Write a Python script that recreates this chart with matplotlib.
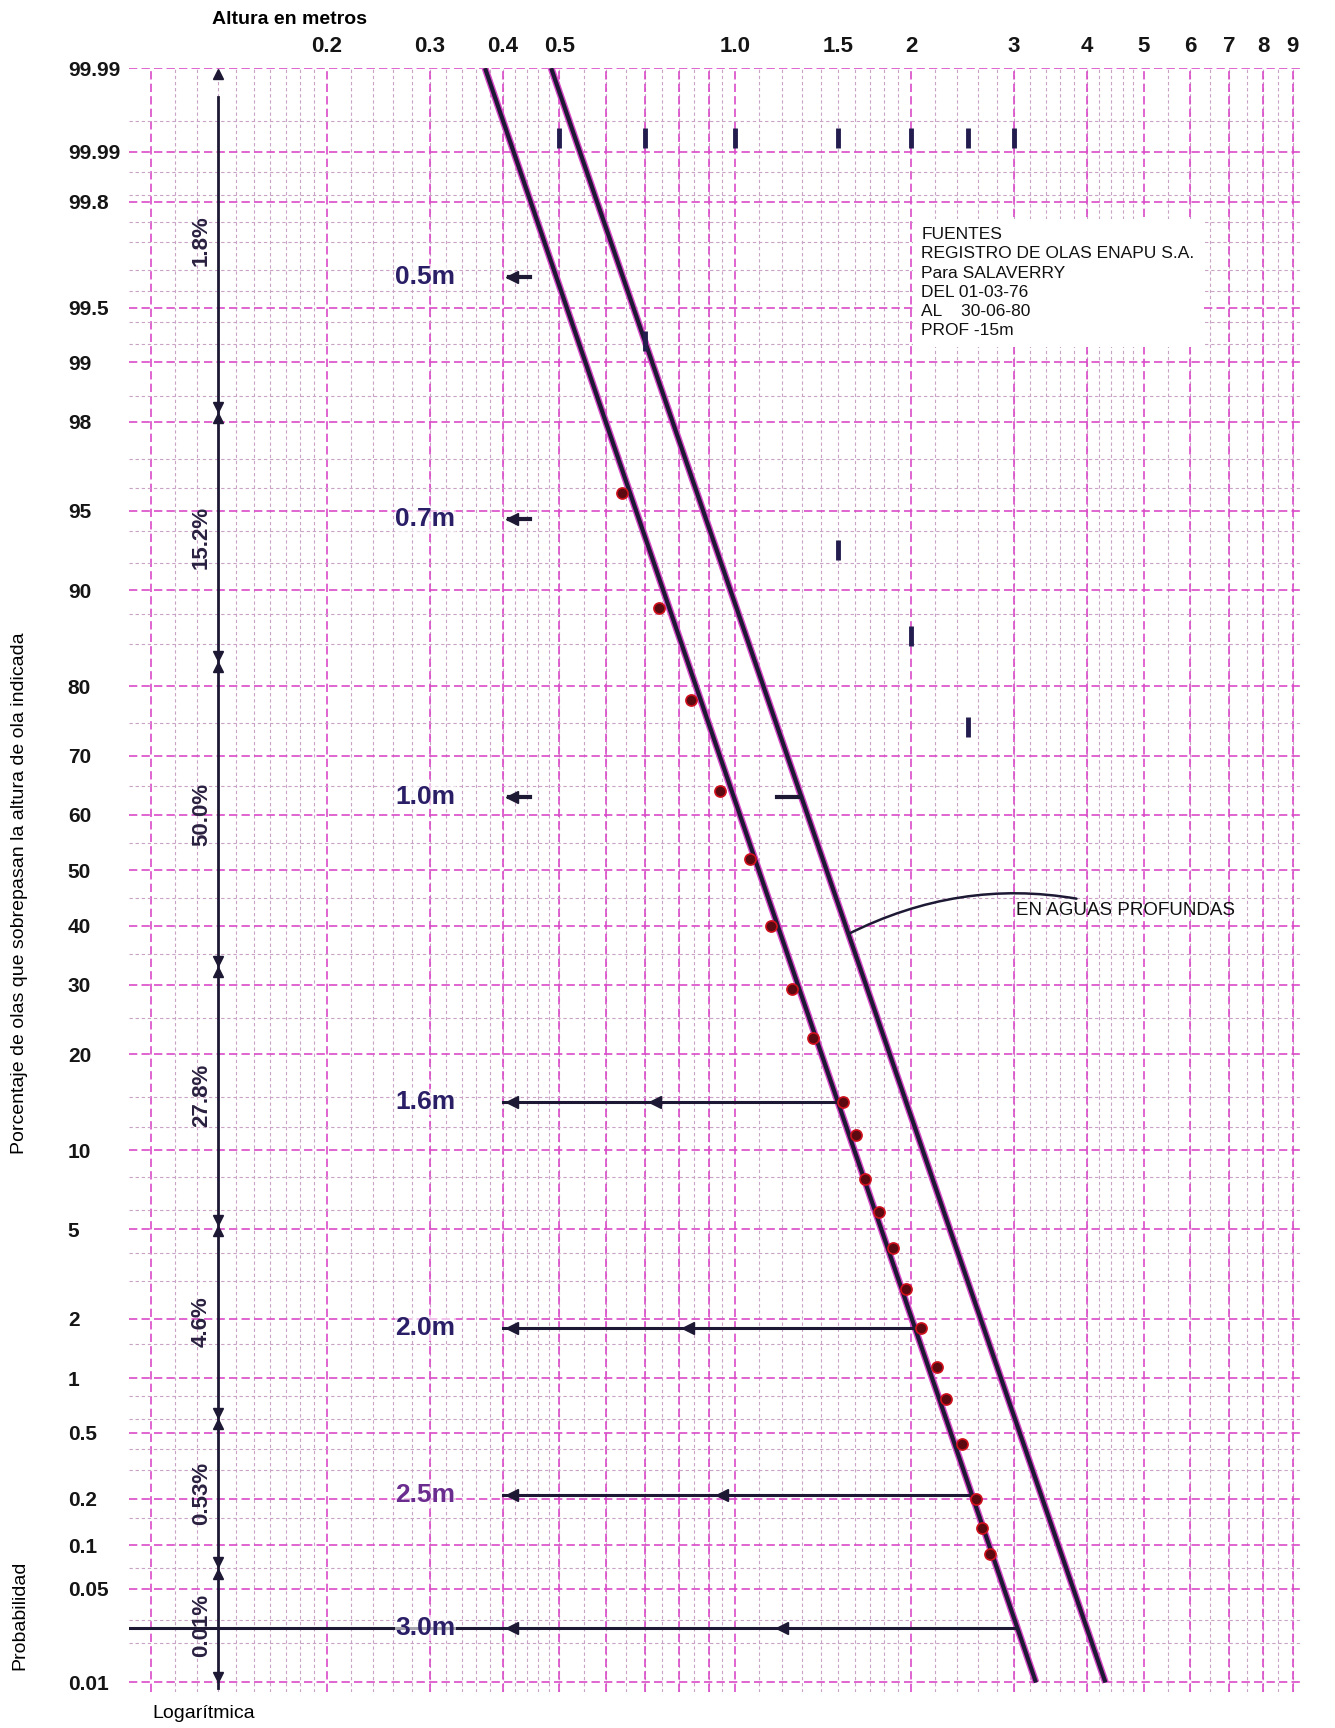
import numpy as np
import matplotlib
matplotlib.use("Agg")
import matplotlib.pyplot as plt
from matplotlib import transforms
from statistics import NormalDist

nd = NormalDist()


def pct_to_z(p):
    p = np.clip(np.asarray(p, dtype=float), 1e-7, 100 - 1e-7)
    return np.vectorize(lambda v: nd.inv_cdf(v / 100.0), otypes=[float])(p)


def z_to_pct(z):
    z = np.asarray(z, dtype=float)
    return np.vectorize(lambda v: nd.cdf(v) * 100.0, otypes=[float])(z)


# registros: altura de ola (m) y % de olas que la sobrepasan
obs_height = [0.64, 0.74, 0.84, 0.94, 1.06, 1.15, 1.25, 1.36, 1.53, 1.61, 1.67,
              1.76, 1.86, 1.96, 2.08, 2.21, 2.29, 2.44, 2.58, 2.64, 2.73]
obs_pct = [95.8, 88.5, 78.2, 64.2, 52.0, 40.0, 29.3, 22.1, 14.4, 11.3, 7.9,
           5.9, 4.2, 2.75, 1.80, 1.15, 0.77, 0.43, 0.20, 0.13, 0.087]

# rectas ajustadas (Salaverry y en aguas profundas)
fit_height = [0.373, 3.27]
fit_pct = [99.988, 0.01]
deep_height = [0.484, 4.30]
deep_pct = [99.988, 0.01]

# alturas de referencia y su % de excedencia sobre la recta ajustada
ref_height = [0.5, 0.7, 1.0, 1.6, 2.0, 2.5, 3.0]
ref_pct = [99.67, 94.6, 63.2, 14.4, 1.80, 0.21, 0.026]
ref_labels = ["0.5m", "0.7m", "1.0m", "1.6m", "2.0m", "2.5m", "3.0m"]

# porcentaje de olas en cada intervalo de altura
band_pct = [1.8, 15.2, 50.0, 27.8, 4.6, 0.53, 0.01]
band_labels = ["1.8%", "15.2%", "50.0%", "27.8%", "4.6%", "0.53%", "0.01%"]

# marcas sueltas sobre el papel
mark_height = [0.5, 0.7, 1.0, 1.5, 2.0, 2.5, 3.0, 0.7, 1.5, 2.0, 2.5]
mark_pct = [99.96, 99.96, 99.96, 99.96, 99.96, 99.96, 99.96, 99.23, 92.9, 85.8, 74.4]

x_ticks = [0.2, 0.3, 0.4, 0.5, 1.0, 1.5, 2, 3, 4, 5, 6, 7, 8, 9]
x_tick_txt = ["0.2", "0.3", "0.4", "0.5", "1.0", "1.5", "2", "3", "4", "5", "6", "7", "8", "9"]
y_ticks = [99.988, 99.95, 99.89, 99.5, 99, 98, 95, 90, 80, 70, 60, 50, 40, 30,
           20, 10, 5, 2, 1, 0.5, 0.2, 0.1, 0.05, 0.01]
y_tick_txt = ["99.99", "99.99", "99.8", "99.5", "99", "98", "95", "90", "80", "70",
              "60", "50", "40", "30", "20", "10", "5", "2", "1", "0.5", "0.2",
              "0.1", "0.05", "0.01"]
y_minor = [0.02, 0.03, 0.07, 0.15, 0.3, 0.4, 0.6, 0.8, 1.5, 3, 4, 6, 8, 12, 15,
           25, 35, 45, 55, 65, 75, 85, 88, 92, 94, 96, 97, 98.5, 99.2, 99.4,
           99.6, 99.7, 99.8, 99.85, 99.9, 99.93, 99.97]

SANS = ["Liberation Sans", "DejaVu Sans"]
INK = "#1d1934"
MAG = "#d94ac8"

fig = plt.figure(figsize=(13.35, 17.28), dpi=100)
fig.patch.set_facecolor("white")
ax = fig.add_axes([0.0966, 0.0208, 0.8779, 0.9398])

ax.set_xscale("log")
ax.set_yscale("function", functions=(pct_to_z, z_to_pct))
ax.set_xlim(0.0917, 9.29)
ax.set_ylim(0.0084, 99.988)
for s in ax.spines.values():
    s.set_visible(False)

# papel logaritmico-probabilistico
v_major = [k * 10.0 ** e for e in (-1, 0) for k in range(1, 10)]
v_minor = np.concatenate([np.arange(0.11, 0.2, 0.01), np.arange(0.22, 0.5, 0.02),
                          np.arange(0.55, 1.0, 0.05), np.arange(1.1, 2.0, 0.1),
                          np.arange(2.2, 5.0, 0.2), np.arange(5.5, 9.3, 0.5)])
ax.vlines(v_minor, 0.0084, 99.988, colors="#c9a3c6", lw=0.8,
          linestyles=(0, (3, 2.5)), zorder=1)
ax.vlines(v_major, 0.0084, 99.988, colors=MAG, lw=1.2,
          linestyles=(0, (5, 2.5)), zorder=1)
ax.hlines(y_minor, 0.0917, 9.29, colors="#c9a3c6", lw=0.8,
          linestyles=(0, (3, 2.5)), zorder=1)
ax.hlines(y_ticks, 0.0917, 9.29, colors=MAG, lw=1.2,
          linestyles=(0, (5, 2.5)), zorder=1)

# ejes de lectura
ax.xaxis.tick_top()
ax.set_xticks(x_ticks)
ax.set_xticklabels(x_tick_txt, fontsize=16, family=SANS, weight="bold")
ax.xaxis.set_minor_locator(matplotlib.ticker.NullLocator())
ax.set_yticks(y_ticks)
ax.set_yticklabels(y_tick_txt, fontsize=15, family=SANS, weight="bold")
ax.yaxis.set_minor_locator(matplotlib.ticker.NullLocator())
ax.tick_params(axis="both", length=0, colors="#151515")
ax.tick_params(axis="x", pad=8)
ax.tick_params(axis="y", pad=44)
for lab in ax.get_yticklabels():
    lab.set_ha("left")

# rectas ajustadas
for h, p in ((fit_height, fit_pct), (deep_height, deep_pct)):
    ax.plot(h, p, color=MAG, lw=5, solid_capstyle="butt", zorder=3)
    ax.plot(h, p, color=INK, lw=3, solid_capstyle="butt", zorder=4)

ax.plot(obs_height, obs_pct, ls="none", marker="o", ms=8, mfc="#5a0a10",
        mec="#d0101c", mew=1.2, zorder=5)

ax.plot(mark_height, mark_pct, ls="none", marker="|", ms=14, mew=3.5,
        color="#231d4f", zorder=4)

# lineas horizontales por altura de referencia
z_fit = pct_to_z(fit_pct)
log_fit = np.log10(fit_height)
z_deep = pct_to_z(deep_pct)
log_deep = np.log10(deep_height)
mid_arrow = {"1.6m": 0.73, "2.0m": 0.83, "2.5m": 0.95, "3.0m": 1.2}
for h, p, lab in zip(ref_height, ref_pct, ref_labels):
    zr = pct_to_z(p)
    h_end = 10 ** np.interp(zr, z_fit[::-1], log_fit[::-1])
    if h >= 1.6:
        x0 = 0.0917 if h == 3.0 else 0.40
        ax.plot([x0, h_end], [p, p], color=INK, lw=2.2, zorder=4)
        ax.plot([0.415, mid_arrow[lab]], [p, p], ls="none", marker="<", ms=9,
                color=INK, zorder=5)
    else:
        ax.plot([0.41, 0.445], [p, p], color=INK, lw=3, zorder=4)
        ax.plot([0.415], [p], ls="none", marker="<", ms=9, color=INK, zorder=5)
        if h == 1.0:
            h_deep = 10 ** np.interp(zr, z_deep[::-1], log_deep[::-1])
            ax.plot([1.18, h_deep], [p, p], color=INK, lw=3, zorder=4)
    col = "#6a2c8e" if lab == "2.5m" else "#2a1e66"
    ax.text(0.262, p, lab, fontsize=19, family=SANS, weight="bold", color=col,
            ha="left", va="center", zorder=6,
            bbox=dict(facecolor="white", edgecolor="none", pad=0.5, alpha=0.6))

# escala de intervalos sobre el eje vertical
yt = transforms.blended_transform_factory(ax.transAxes, ax.transData)
axis_x = 0.076
bounds = [99.988] + list(100 - np.cumsum(band_pct[:-2])) + [0.07, 0.01]
ax.plot([axis_x, axis_x], [0.009, 99.98], transform=yt, color=INK, lw=2, zorder=5)
up = transforms.offset_copy(yt, fig=fig, y=-4, units="points")
down = transforms.offset_copy(yt, fig=fig, y=4, units="points")
for b in bounds[1:]:
    ax.plot(axis_x, b, marker="v", ms=7, color=INK, transform=down, zorder=6)
for b in bounds[:-1]:
    ax.plot(axis_x, b, marker="^", ms=7, color=INK, transform=up, zorder=6)
for i, lab in enumerate(band_labels):
    zm = (pct_to_z(bounds[i]) + pct_to_z(bounds[i + 1])) / 2
    ax.text(0.062, float(z_to_pct(zm)), lab, transform=yt, rotation=90,
            fontsize=16, family=SANS, weight="bold", color="#2a2040",
            ha="center", va="center", zorder=6)

# fuente de datos
ax.text(0.676, 0.902,
        "FUENTES\nREGISTRO DE OLAS ENAPU S.A.\nPara SALAVERRY\nDEL 01-03-76\n"
        "AL    30-06-80\nPROF -15m",
        transform=ax.transAxes, fontsize=12.5, family=SANS, color="#111111",
        ha="left", va="top", linespacing=1.35, zorder=6,
        bbox=dict(facecolor="white", edgecolor="none", pad=6))

ax.annotate("EN AGUAS PROFUNDAS", xy=(1.56, 38.5),
            xytext=(0.757, 0.4813), textcoords="axes fraction",
            fontsize=13.5, family=SANS, color="#111111", ha="left", va="center",
            arrowprops=dict(arrowstyle="-", color=INK, lw=1.8,
                            connectionstyle="arc3,rad=0.2",
                            shrinkA=2, shrinkB=0), zorder=6)

fig.text(289 / 1335, 1 - 19 / 1728, "Altura en metros", fontsize=14,
         family=SANS, weight="bold", ha="center", va="center")
fig.text(20 / 1335, 1 - 893 / 1728,
         "Porcentaje de olas que sobrepasan la altura de ola indicada",
         fontsize=14, family=SANS, rotation=90, ha="center", va="center")
fig.text(20 / 1335, 1 - 1615 / 1728, "Probabilidad", fontsize=14,
         family=SANS, rotation=90, ha="center", va="center")
fig.text(204 / 1335, 1 - 1714 / 1728, "Logarítmica", fontsize=14,
         family=SANS, ha="center", va="center")

fig.savefig("out.png", dpi=100)
